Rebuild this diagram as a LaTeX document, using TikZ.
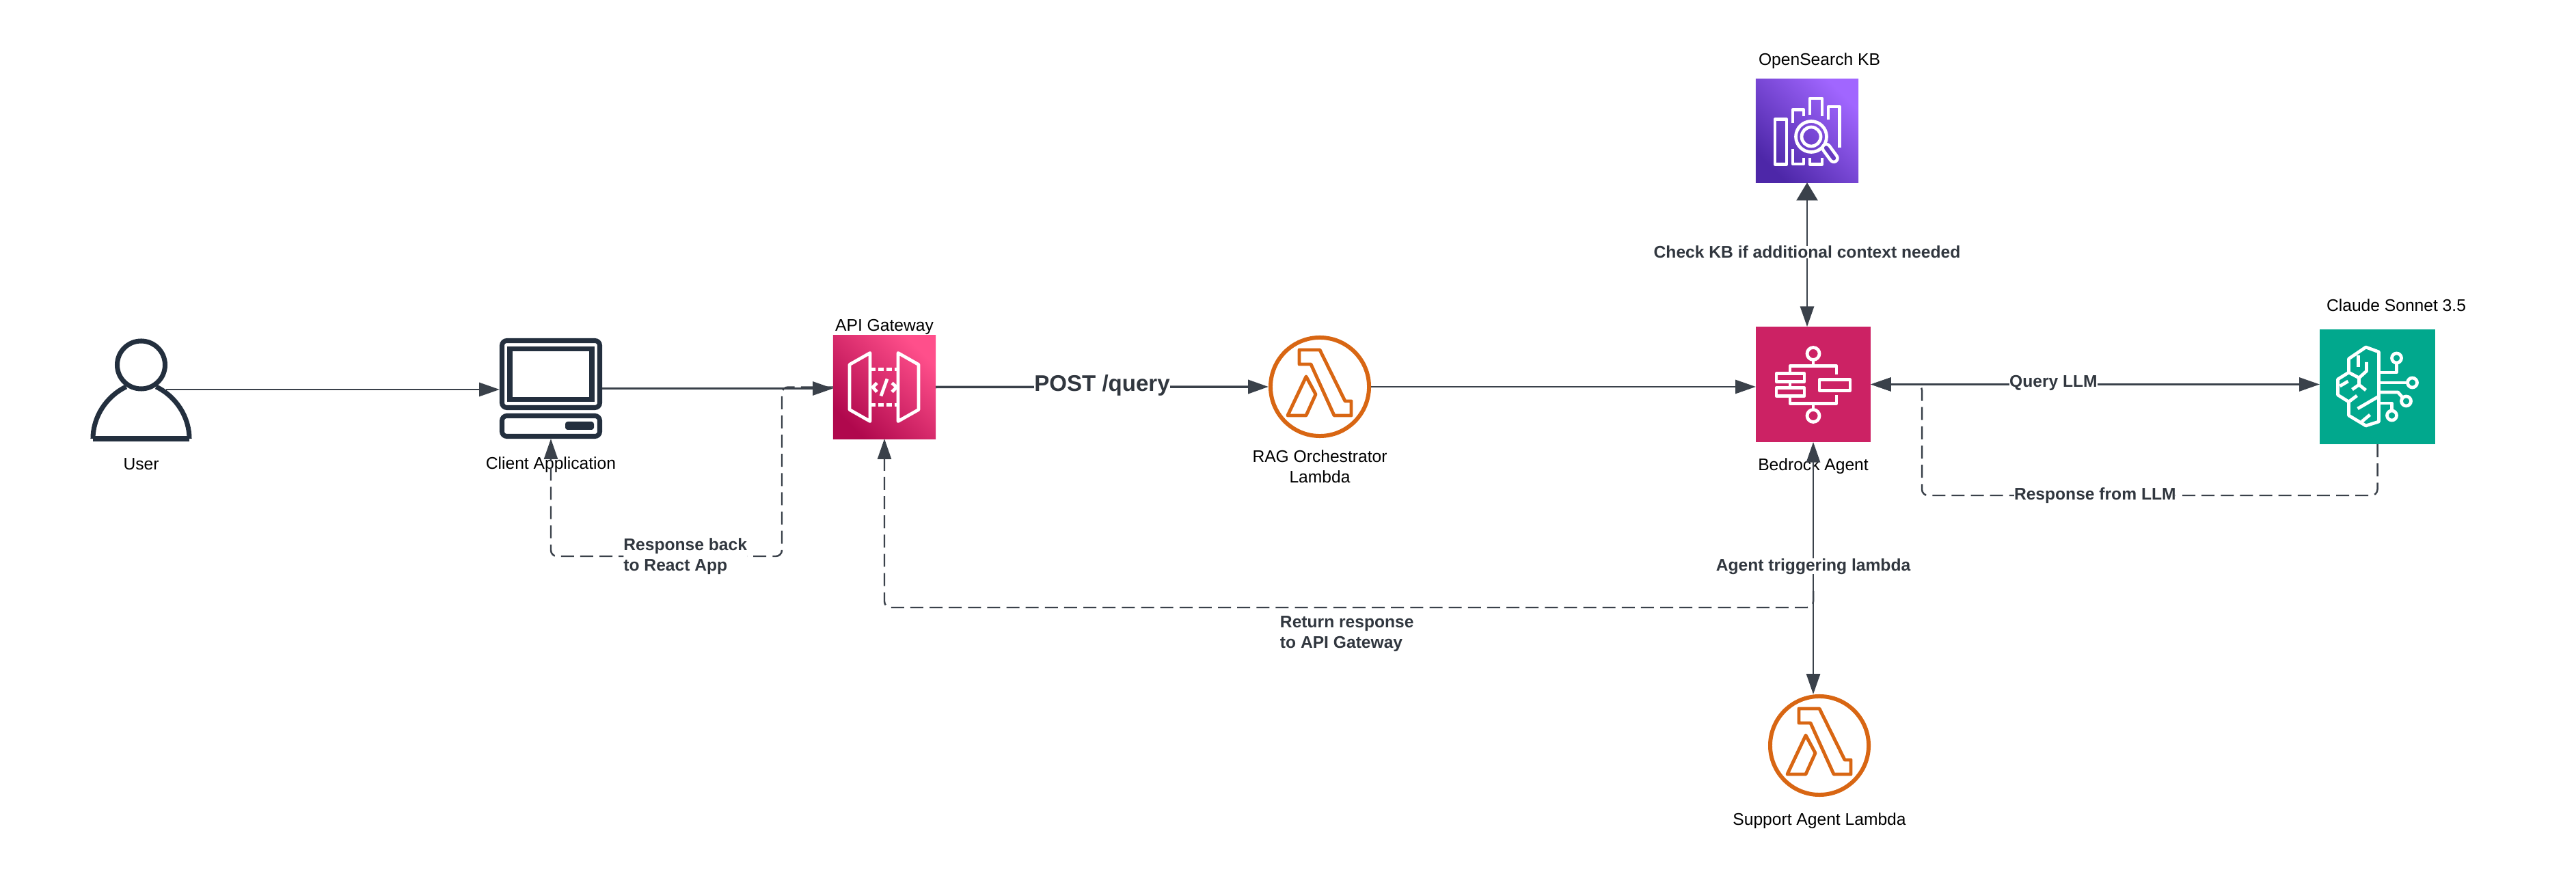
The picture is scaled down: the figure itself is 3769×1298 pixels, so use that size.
\documentclass[tikz,border=0pt]{standalone}
\usepackage{fontspec}
\setmainfont{Liberation Sans}
\usetikzlibrary{arrows.meta,positioning,calc}
\definecolor{fio}{HTML}{3A414A}
\definecolor{tinta}{HTML}{232F3E}
\definecolor{laranja}{HTML}{D86613}
\definecolor{agente}{HTML}{CC2264}
\definecolor{verde}{HTML}{01A88D}
\definecolor{rosaA}{HTML}{B0084D}
\definecolor{rosaB}{HTML}{FF4F8B}
\definecolor{roxoA}{HTML}{4D27A8}
\definecolor{roxoB}{HTML}{A166FF}
\newcommand{\iconuser}[1]{\begin{scope}[shift={(#1)}, draw=tinta, line width=2pt, line join=round]
  \draw (0,-36) circle[radius=35];
  \draw (-70.5,72) .. controls (-70.5,40) and (-51,10) .. (-22,-4);
  \draw (70.5,72) .. controls (70.5,40) and (51,10) .. (22,-4);
  \draw (-70.5,72) -- (70.5,72);
\end{scope}}
\newcommand{\iconclient}[1]{\begin{scope}[shift={(#1)}, draw=tinta, line width=2pt]
  \draw[rounded corners=2pt] (-71.5,-70) rectangle (71.5,28);
  \draw (-60,-58) rectangle (60,16);
  \draw[rounded corners=2pt] (-71.5,40) rectangle (71.5,70);
  \fill[tinta, rounded corners=1pt] (21,48.5) rectangle (63,60.5);
\end{scope}}
\newcommand{\iconapi}[1]{\begin{scope}[shift={(#1)}, draw=white, line width=1.35pt, line join=round]
  \draw (-21,-50) -- (-51,-33) -- (-51,33) -- (-21,50) -- cycle;
  \draw (20,-50) -- (50,-33) -- (50,33) -- (20,50) -- cycle;
  \draw[dash pattern=on 2.2pt off 1.2pt] (-21,-26) -- (20,-26);
  \draw[dash pattern=on 2.2pt off 1.2pt] (-21,26) -- (20,26);
  \draw (-11,-6) -- (-17,0) -- (-11,7);
  \draw (11,-6) -- (18,0) -- (11,7);
  \draw (4,-12) -- (-5,13);
\end{scope}}
\newcommand{\iconlambda}[1]{\begin{scope}[shift={(#1)}, draw=laranja, line width=1.4pt, line join=round]
  \draw (-30,-54) -- (0,-54) -- (37,21) -- (46,21) -- (46,42) -- (21,42) -- (-13,-33) -- (-30,-33) -- cycle;
  \draw (-20,-15) -- (-6,11) -- (-20,42) -- (-47,42) -- cycle;
\end{scope}}
\newcommand{\iconagent}[1]{\begin{scope}[shift={(#1)}, draw=white, line width=1.35pt, line join=round]
  \draw (0,-45) circle[radius=9];
  \draw (0,46) circle[radius=9];
  \draw (0,-36) -- (0,-27);
  \draw (0,28) -- (0,37);
  \draw (-34,-17) -- (-34,-27) -- (34,-27) -- (34,-14);
  \draw (-34,17) -- (-34,28) -- (34,28) -- (34,16);
  \draw (-54,-16) rectangle (-13,-4);
  \draw (-54,5) rectangle (-13,17);
  \draw (-34,-4) -- (-34,5);
  \draw (9,-7) rectangle (54,9);
\end{scope}}
\newcommand{\iconsearch}[1]{\begin{scope}[shift={(#1)}, draw=white, line width=1.35pt, line join=round]
  \draw (-47,-17) rectangle (-30,49);
  \draw (-21,-11.5) -- (-21,-31) -- (-5,-31) -- (-5,-21.5);
  \draw (-21,27) -- (-21,48.5) -- (-5,48.5) -- (-5,40);
  \draw (4,-23) -- (4,-47.5) -- (22,-47.5) -- (22,-21.5);
  \draw (4,40) -- (4,49) -- (22,49) -- (22,40);
  \draw (31,-16.5) -- (31,-35.5) -- (47.5,-35.5) -- (47.5,25);
  \draw (6,8.5) circle[radius=22.5];
  \draw (6,8.5) circle[radius=14];
  \draw[line width=4.4pt, line cap=round] (28,25) -- (39,40);
  \draw[draw=roxoA!70!roxoB, line width=1.8pt, line cap=round] (28,25) -- (39,40);
\end{scope}}
\newcommand{\iconbrain}[1]{\begin{scope}[shift={(#1)}, draw=white, line width=1.35pt, line join=round]
  \draw (2,-51) -- (-17,-58) -- (-42,-41) -- (-42,-21) -- (-58,-11) -- (-58,12) -- (-42,22) -- (-42,42) -- (-17,57) -- (2,51) -- cycle;
  \draw (-28,-46) -- (-28,-29);
  \draw (-16,-36) -- (-16,-23) -- (-27,-13) -- (-42,-21);
  \draw (-27,-13) -- (-27,-3);
  \draw (-37,4) -- (-27,-3) -- (-17,5);
  \draw (-55,-1) -- (-43,-8);
  \draw (-42,22) -- (-30,13);
  \draw (-29,32) -- (2,14);
  \draw (-23,51) -- (-11,41);
  \draw (2,-21) -- (28,-21) -- (28,-35);
  \draw (28,-42) circle[radius=7];
  \draw (2,-6) -- (44,-6);
  \draw (51,-6) circle[radius=7];
  \draw (2,8) -- (30,8) -- (37,16);
  \draw (42,21) circle[radius=7];
  \draw (2,24) -- (21,24) -- (21,35);
  \draw (21,42) circle[radius=7];
\end{scope}}

\begin{document}
\begin{tikzpicture}[x=0.01cm, y=-0.01cm, line width=0.8pt,
  >={Triangle[length=8.5pt,width=5.7pt]},
  font=\fontsize{7}{8.5}\selectfont,
  slot/.style={inner sep=0pt, outer sep=0pt},
  lbl/.style={inner sep=0pt, align=center, text=black},
  elbl/.style={inner sep=0pt, fill=white, text=fio!85!black, font=\fontsize{7}{8.5}\selectfont\bfseries},
  ln/.style={draw=fio, ->},
  dsh/.style={ln, dash pattern=on 5.4pt off 2.6pt, line width=0.7pt, rounded corners=2.5pt},
  rnd/.style={circle, draw=laranja, line width=1.7pt, minimum size=1.44cm, inner sep=0pt}]
  \useasboundingbox (0,0) rectangle (3769,1298);
  \node[slot, minimum width=1.5cm, minimum height=1.5cm] (user) at (206.5,570) {};
  \node[slot, minimum width=1.5cm, minimum height=1.47cm] (client) at (806,568.5) {};
  \node[slot, minimum width=1.5cm, minimum height=1.51cm, top color=rosaB, bottom color=rosaA, shading angle=-45] (api) at (1294,566.5) {};
  \node[rnd] (rag) at (1931,566) {};
  \node[slot, minimum width=1.5cm, minimum height=1.51cm, top color=roxoB, bottom color=roxoA, shading angle=-45] (kb) at (2644,191.5) {};
  \node[slot, fill=agente, minimum width=1.68cm, minimum height=1.685cm] (bedrock) at (2653,562.5) {};
  \node[slot, fill=verde, minimum width=1.69cm, minimum height=1.68cm] (claude) at (3478.5,566) {};
  \node[rnd] (support) at (2662,1091) {};
  \coordinate (userout) at (243,570);
  \iconuser{user.center}
  \iconclient{client.center}
  \iconapi{api.center}
  \iconlambda{rag.center}
  \iconsearch{kb.center}
  \iconagent{bedrock.center}
  \iconbrain{claude.center}
  \iconlambda{support.center}
  \node[lbl, below=2.4mm of user] (userlbl) {User};
  \node[lbl, below=2.5mm of client] (clientlbl) {Client Application};
  \node[lbl, above=0mm of api] (apilbl) {API Gateway};
  \node[lbl, below=1.6mm of rag] (raglbl) {RAG Orchestrator\\Lambda};
  \node[lbl, above=1.35mm of kb, xshift=1.8mm] (kblbl) {OpenSearch KB};
  \node[lbl, below=2.2mm of bedrock] (bedrocklbl) {Bedrock Agent};
  \node[lbl, above=2.45mm of claude, xshift=2.75mm] (claudelbl) {Claude Sonnet 3.5};
  \node[lbl, below=2.25mm of support] (supportlbl) {Support Agent Lambda};
  \coordinate (backlow) at (1144,814);
  \coordinate (retfrom) at (2653,865);
  \coordinate (retlow) at (2653,889);
  \coordinate (llmlow) at (2812,725);
  \coordinate (llmup) at (2812,562.5);
  \draw[dsh] (api.west) -| (backlow) -| node[elbl, align=left, pos=0.209] {Response back\\to React App} (client.south);
  \draw[dsh] (retfrom) -- (retlow) -| node[elbl, align=left, below=3.2pt, pos=0.251, fill=none] {Return response\\to API Gateway} (api.south);
  \draw[dsh] (claude.south) |- node[elbl, pos=0.81] {Response from LLM} (llmlow) -- (llmup) -- (bedrock.east);
  \draw[ln] (userout) -- (userout -| client.west);
  \draw[ln] (client.east) -- (client.east -| api.west);
  \draw[ln, line width=1pt] (api.east) -- node[elbl, font=\fontsize{9.4}{11}\selectfont\bfseries, yshift=0.6pt] {POST /query} (rag.west);
  \draw[ln] (rag.east) -- (rag.east -| bedrock.west);
  \draw[draw=fio, {Triangle[length=7.5pt,width=8.8pt]}-{>}] (kb.south) -- node[elbl, pos=0.483] {Check KB if additional context needed} (kb.south |- bedrock.north);
  \draw[draw=fio, <->] (bedrock.east) -- node[elbl, pos=0.407, yshift=0.5pt] {Query LLM} (bedrock.east -| claude.west);
  \draw[draw=fio, <->] (bedrock.south) -- node[elbl, pos=0.493] {Agent triggering lambda} (bedrock.south |- support.north);
\end{tikzpicture}
\end{document}
